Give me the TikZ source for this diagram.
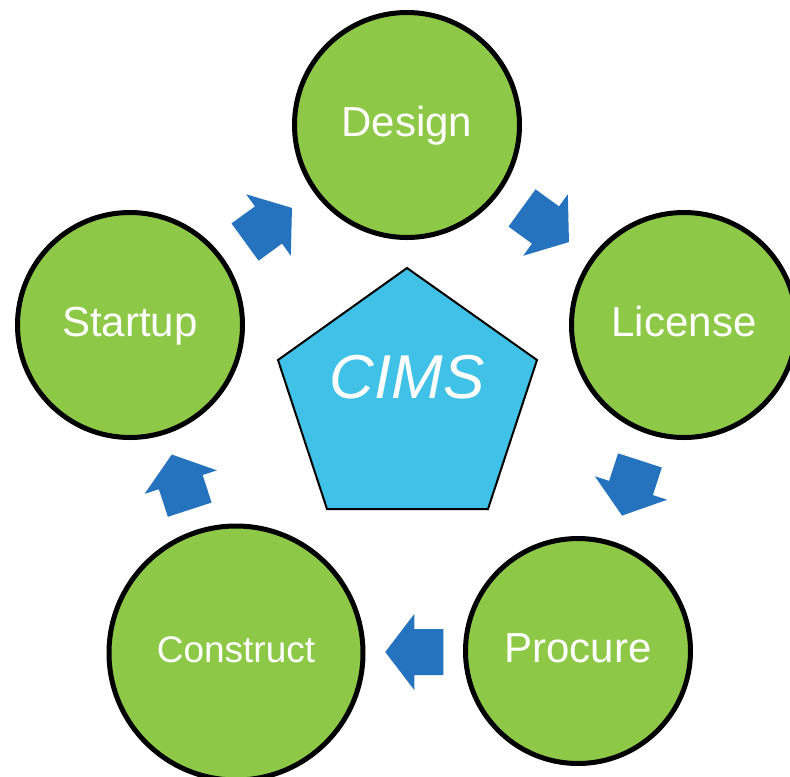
\documentclass[tikz,border=0pt]{standalone}
\usepackage{fontspec}
\setmainfont{Liberation Sans}
\usetikzlibrary{calc}

\definecolor{stagegreen}{RGB}{141,201,71}
\definecolor{cycleblue}{RGB}{37,114,190}
\definecolor{hubcyan}{RGB}{63,193,232}

\tikzset{blockarrow/.pic={
  \fill [cycleblue] (-29,-23) -- (0,-23) -- (0,-38) -- (29,0) -- (0,38) -- (0,23) -- (-29,23) -- cycle ;
}}

\begin{document}
\begin{tikzpicture}[x=0.75pt,y=0.75pt,yscale=-1,xscale=1,
  stage/.style={circle,draw=black,line width=3.75pt,fill=stagegreen,text=white,
    minimum size=168.75pt,inner sep=0pt,text height=23pt,text depth=6pt,
    font=\fontsize{31.5}{36}\selectfont}]
\useasboundingbox (0,0) rectangle (790,776);

%Shape: Pentagon
\draw [fill=hubcyan, line width=1.5pt, line join=miter] (407,268) -- (537,360) -- (488,509) -- (327,509) -- (278,360) -- cycle ;
% Text Node
\node [text=white, font=\fontsize{46.5}{54}\selectfont\itshape] (cims) at (407,377) {CIMS};

%Shape: Circles
\node [stage] (design) at (407,125) {Design};
\node [stage] (license) at (684,325) {License};
\node [stage] (procure) at (578,651) {Procure};
\node [stage, minimum size=190.5pt, text height=20pt, text depth=6.5pt, font=\fontsize{27.75}{32}\selectfont] (construct) at (236,653) {Construct};
\node [stage] (startup) at (130,325) {Startup};

%Block Arrows
\coordinate (todesign) at ($(startup)!0.5!(design)$);
\coordinate (tolicense) at ($(design)!0.5!(license)$);
\coordinate (toprocure) at ($(license)!0.5!(procure)$);
\coordinate (toconstruct) at ($(procure.west)!0.5!(construct.east)$);
\coordinate (tostartup) at ($(construct.108)!0.5!(startup.288)$);
\pic [rotate=36] at (todesign) {blockarrow};
\pic [rotate=-36] at (tolicense) {blockarrow};
\pic [rotate=-108] at (toprocure) {blockarrow};
\pic [rotate=180] at (toconstruct) {blockarrow};
\pic [rotate=108] at (tostartup) {blockarrow};

\end{tikzpicture}
\end{document}
